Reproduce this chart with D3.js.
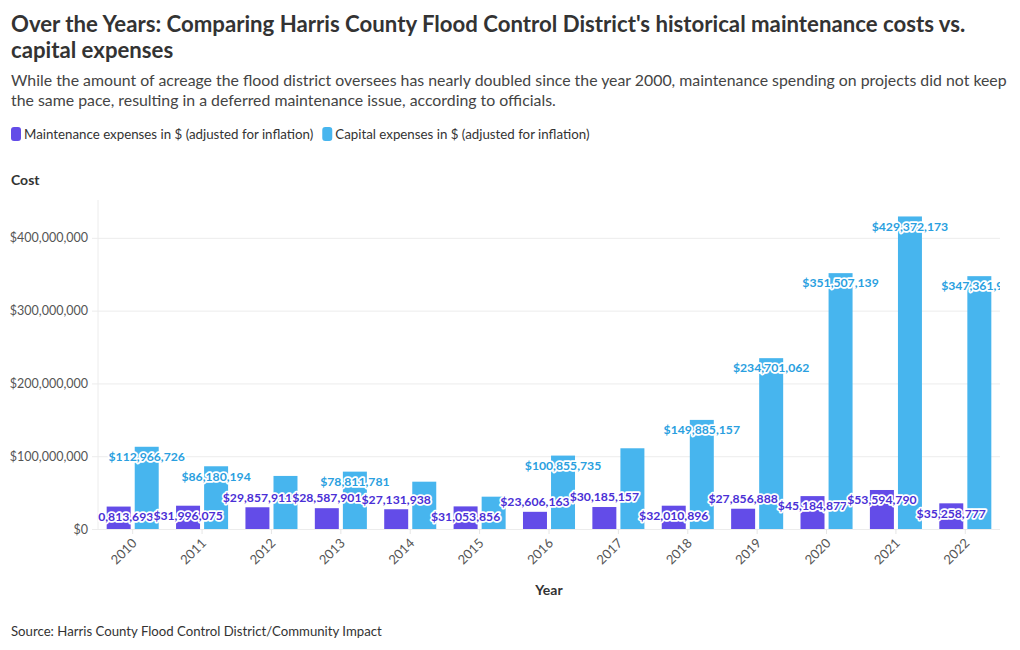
<!DOCTYPE html>
<html>
<head>
<meta charset="utf-8">
<script src="https://cdn.jsdelivr.net/npm/d3@7"></script>
<style>
  html, body { margin: 0; padding: 0; background: #fff; }
  svg { display: block; font-family: Lato, "Noto Sans", sans-serif; }
</style>
</head>
<body>
<svg id="chart" width="1020" height="650"></svg>
<script>
// ---------- data ----------
const years = ["2010","2011","2012","2013","2014","2015","2016","2017","2018","2019","2020","2021","2022"];
const maintenance = [30813693, 31996075, 29857911, 28587901, 27131938, 31053856, 23606163, 30185157, 32010896, 27856888, 45184877, 53594790, 35258777];
const capital = [112966726, 86180194, 72900000, 78811781, 65000000, 44400000, 100855735, 110900000, 149885157, 234701062, 351507139, 429372173, 347361912];
const seriesNames = ["Maintenance expenses in $ (adjusted for inflation)", "Capital expenses in $ (adjusted for inflation)"];
const yTicks = [0, 100000000, 200000000, 300000000, 400000000];
const titleLines = ["Over the Years: Comparing Harris County Flood Control District's historical maintenance costs vs.", "capital expenses"];
const subtitleLines = ["While the amount of acreage the flood district oversees has nearly doubled since the year 2000, maintenance spending on projects did not keep", "the same pace, resulting in a deferred maintenance issue, according to officials."];
const yAxisTitle = "Cost";
const xAxisTitle = "Year";
const sourceText = "Source: Harris County Flood Control District/Community Impact";

// ---------- styles ----------
const barColors = ["#634ce8", "#47b5ee"];
const labelColors = ["#4a2fd6", "#2a9fe0"];

const svg = d3.select("#chart");
const plot = { left: 98, right: 1000, top: 200, bottom: 529 };

// Title & subtitle
svg.append("text").attr("x", 11).attr("y", 32)
  .attr("font-size", 22.2).attr("font-weight", 700).attr("fill", "#333")
  .selectAll("tspan").data(titleLines).join("tspan")
  .attr("x", 11).attr("dy", (d, i) => i ? 26 : 0).text(d => d);

svg.append("text").attr("x", 11).attr("y", 86)
  .attr("font-size", 15.85).attr("fill", "#444")
  .selectAll("tspan").data(subtitleLines).join("tspan")
  .attr("x", 11).attr("dy", (d, i) => i ? 20 : 0).text(d => d);

// Legend
const legend = svg.append("g").attr("transform", "translate(11,134)");
let lx = 0;
seriesNames.forEach((name, i) => {
  const g = legend.append("g").attr("transform", `translate(${lx},0)`);
  g.append("rect").attr("x", 0).attr("y", -7).attr("width", 10).attr("height", 14)
    .attr("rx", 3).attr("fill", barColors[i]);
  const t = g.append("text").attr("x", 13).attr("y", 0).attr("dy", "0.35em")
    .attr("font-size", 13.3).attr("fill", "#333").text(name);
  lx += 13 + t.node().getComputedTextLength() + 9;
});

// Axis titles
svg.append("text").attr("x", 11).attr("y", 185).attr("font-size", 14)
  .attr("font-weight", 700).attr("fill", "#333").text(yAxisTitle);
svg.append("text").attr("x", (plot.left + plot.right) / 2).attr("y", 595)
  .attr("text-anchor", "middle").attr("font-size", 14)
  .attr("font-weight", 700).attr("fill", "#333").text(xAxisTitle);

// Source
svg.append("text").attr("x", 11).attr("y", 636).attr("font-size", 13.2)
  .attr("fill", "#333").text(sourceText);

// Scales
const y = d3.scaleLinear().domain([0, 452000000]).range([plot.bottom, plot.top]);
const x0 = d3.scaleBand().domain(years).range([plot.left, plot.right])
  .paddingInner(0.25).paddingOuter(0.125);
const x1 = d3.scaleBand().domain([0, 1]).range([0, x0.bandwidth()]).paddingInner(0.145);

// Y axis with gridlines
const yAxis = d3.axisLeft(y).tickValues(yTicks)
  .tickSize(-(plot.right - plot.left + 6)).tickPadding(4)
  .tickFormat(d => "$" + d3.format(",")(d));
const yg = svg.append("g").attr("transform", `translate(${plot.left - 6},0)`).call(yAxis);
yg.select(".domain").remove();
yg.selectAll(".tick line").attr("stroke", "#ececec");
yg.selectAll(".tick text").attr("font-size", 12.5).attr("fill", "#555")
  .attr("font-family", "Lato, sans-serif");
// vertical axis line
svg.append("line").attr("x1", plot.left).attr("x2", plot.left)
  .attr("y1", plot.top).attr("y2", plot.bottom).attr("stroke", "#ececec");

// X axis
const xAxis = d3.axisBottom(x0).tickSize(5).tickSizeOuter(0).tickPadding(0);
const xg = svg.append("g").attr("transform", `translate(0,${plot.bottom})`).call(xAxis);
xg.select(".domain").remove();
xg.selectAll(".tick line").attr("stroke", "#e6e6e6");
xg.selectAll(".tick text").attr("font-size", 13).attr("fill", "#555")
  .attr("font-family", "Lato, sans-serif")
  .attr("text-anchor", "end").attr("dy", null).attr("y", null)
  .attr("transform", "translate(5,15) rotate(-45)");

// Bars
const rows = years.map((yr, i) => ({ year: yr, vals: [maintenance[i], capital[i]] }));
const groups = svg.append("g").selectAll("g").data(rows).join("g")
  .attr("transform", d => `translate(${x0(d.year)},0)`);
groups.selectAll("rect").data(d => d.vals.map((v, s) => ({ v, s }))).join("rect")
  .attr("x", d => x1(d.s)).attr("width", x1.bandwidth())
  .attr("y", d => y(d.v)).attr("height", d => plot.bottom - y(d.v))
  .attr("fill", d => barColors[d.s]);

// Labels with collision avoidance
svg.append("clipPath").attr("id", "plotclip").append("rect")
  .attr("x", plot.left).attr("y", 0).attr("width", plot.right - plot.left).attr("height", 650);
const lg = svg.append("g").attr("clip-path", "url(#plotclip)");
const insideMin = 22.2, offset = 10, boxH = 14, xTol = 2;
const placed = [];
const fmt = d => "$" + d3.format(",")(d);
rows.forEach(r => {
  r.vals.forEach((v, s) => {
    const cx = x0(r.year) + x1(s) + x1.bandwidth() / 2;
    const top = y(v);
    const h = plot.bottom - top;
    const cy = h >= insideMin ? top + offset : top - offset;
    const t = lg.append("text").attr("x", cx).attr("y", cy).attr("dy", "0.35em")
      .attr("text-anchor", "middle").attr("font-size", 12.2).attr("font-weight", 700)
      .attr("fill", labelColors[s]).attr("stroke", "#fff").attr("stroke-width", 3.5)
      .attr("stroke-linejoin", "round").attr("paint-order", "stroke")
      .text(fmt(v));
    const w = t.node().getComputedTextLength();
    const box = { x0: cx - w / 2, x1: cx + w / 2, y0: cy - boxH / 2, y1: cy + boxH / 2 };
    const hit = placed.some(b =>
      Math.min(b.x1, box.x1) - Math.max(b.x0, box.x0) > xTol &&
      Math.min(b.y1, box.y1) - Math.max(b.y0, box.y0) > 0);
    if (hit) t.remove(); else placed.push(box);
  });
});
</script>
</body>
</html>
